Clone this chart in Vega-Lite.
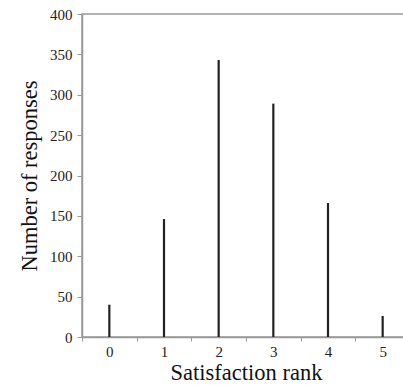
{
  "$schema": "https://vega.github.io/schema/vega-lite/v6.json",
  "autosize": {"type": "none"},
  "padding": {"left": 82, "top": 14, "right": 0, "bottom": 48},
  "width": 328,
  "height": 323,
  "background": "white",
  "config": {
    "view": {"stroke": "#999999", "strokeWidth": 1.5},
    "font": "Liberation Serif"
  },
  "data": {
    "values": [
      {"rank": "0", "count": 40},
      {"rank": "1", "count": 146},
      {"rank": "2", "count": 343},
      {"rank": "3", "count": 289},
      {"rank": "4", "count": 166},
      {"rank": "5", "count": 26}
    ]
  },
  "mark": {"type": "rule", "stroke": "#222222", "strokeWidth": 2.2},
  "encoding": {
    "x": {
      "field": "rank",
      "type": "ordinal",
      "scale": {"paddingInner": 0, "paddingOuter": 0},
      "axis": {
        "title": "Satisfaction rank",
        "titleFont": "Liberation Serif",
        "titleFontSize": 22.5,
        "titleFontWeight": "normal",
        "titleColor": "#111111",
        "titlePadding": 2,
        "labelFont": "Liberation Serif",
        "labelFontSize": 15,
        "labelColor": "#222222",
        "labelAngle": 0,
        "labelPadding": 3,
        "tickBand": "extent",
        "tickSize": 4,
        "tickColor": "#999999",
        "domainColor": "#999999",
        "domainWidth": 1.5,
        "grid": false
      }
    },
    "y": {
      "field": "count",
      "type": "quantitative",
      "scale": {"domain": [0, 400], "nice": false},
      "axis": {
        "title": "Number of responses",
        "titleFont": "Liberation Serif",
        "titleFontSize": 22.5,
        "titleFontWeight": "normal",
        "titleColor": "#111111",
        "titlePadding": 8,
        "labelFont": "Liberation Serif",
        "labelFontSize": 15,
        "labelColor": "#222222",
        "labelPadding": 5,
        "values": [0, 50, 100, 150, 200, 250, 300, 350, 400],
        "tickSize": 5,
        "tickColor": "#999999",
        "domainColor": "#999999",
        "domainWidth": 1.5,
        "grid": false
      }
    },
    "y2": {"datum": 0}
  }
}
